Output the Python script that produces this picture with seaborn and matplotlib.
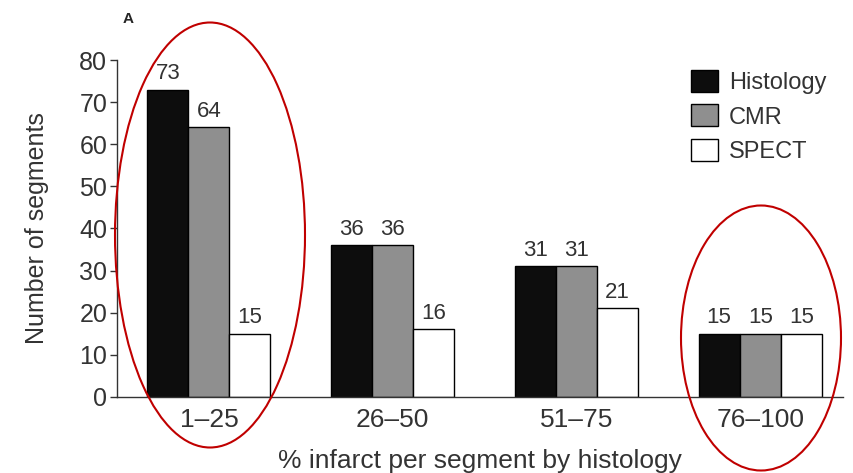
import matplotlib.pyplot as plt
import pandas as pd
import seaborn as sns
from matplotlib.patches import Ellipse

# Data
categories = ["1–25", "26–50", "51–75", "76–100"]
histology = [73, 36, 31, 15]
cmr = [64, 36, 31, 15]
spect = [15, 16, 21, 15]
methods = ["Histology", "CMR", "SPECT"]
colors = ["#0d0d0d", "#8f8f8f", "#ffffff"]

df = pd.DataFrame({
    "range": categories * 3,
    "method": [m for m in methods for _ in categories],
    "count": histology + cmr + spect,
})

sns.set_style("white")
plt.rcParams["font.family"] = ["Liberation Sans", "DejaVu Sans"]

fig = plt.figure(figsize=(8.54, 4.73), dpi=100)
ax = fig.add_axes([0.137, 0.161, 0.85, 0.712])

sns.barplot(data=df, x="range", y="count", hue="method", order=categories,
            hue_order=methods, palette=colors, width=0.67, edgecolor="black",
            linewidth=1, saturation=1, ax=ax)

for cont in ax.containers:
    ax.bar_label(cont, padding=4, fontsize=16, color="#333333")

ax.set_ylim(0, 80)
ax.set_xlim(-0.5, 3.45)
ax.set_yticks(range(0, 81, 10))
ax.tick_params(axis="y", length=5, width=1, labelsize=18, colors="#333333",
               left=True, direction="out", pad=2)
ax.tick_params(axis="x", length=0, labelsize=19, colors="#333333", pad=8)
for s in ["top", "right"]:
    ax.spines[s].set_visible(False)
for s in ["left", "bottom"]:
    ax.spines[s].set_color("#333333")
    ax.spines[s].set_linewidth(1)

ax.set_xlabel("% infarct per segment by histology", fontsize=19, color="#333333", labelpad=12)
ax.set_ylabel("Number of segments", fontsize=18, color="#333333", labelpad=22)

leg = ax.legend(loc="upper right", bbox_to_anchor=(1.0, 1.02), frameon=False,
                fontsize=17, handlelength=1.15, handleheight=1.05,
                handletextpad=0.45, labelspacing=0.45, borderpad=0.2)
for t in leg.get_texts():
    t.set_color("#333333")

fig.text(0.15, 0.96, "A", fontsize=11, fontweight="bold", ha="center", va="center")

# red annotation ellipses
fig.patches.append(Ellipse((210 / 854, 1 - 235 / 473), 190 / 854, 425 / 473,
                           fill=False, edgecolor="#c00000", linewidth=1.5,
                           transform=fig.transFigure, figure=fig))
fig.patches.append(Ellipse((761 / 854, 1 - 338 / 473), 160 / 854, 265 / 473,
                           fill=False, edgecolor="#c00000", linewidth=1.5,
                           transform=fig.transFigure, figure=fig))

plt.savefig("out.png", dpi=100)
